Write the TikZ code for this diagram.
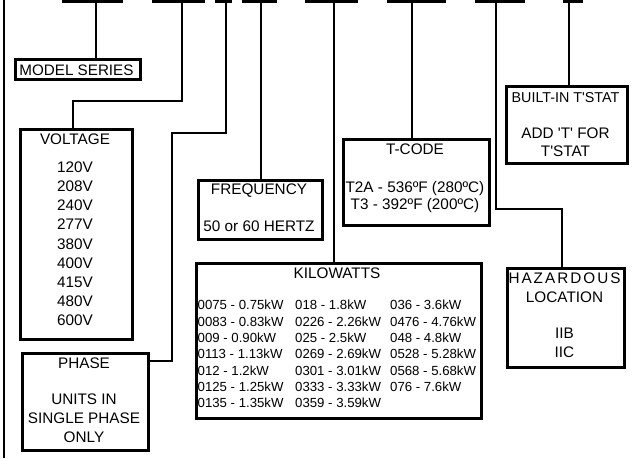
\documentclass[tikz,border=0pt]{standalone}
\usepackage{fontspec}
\newfontfamily\lsans{Liberation Sans}
\begin{document}
\begin{tikzpicture}[x=1pt,y=-1pt,line width=2.4pt,
  box/.style={draw,line width=2.9pt,inner sep=0pt,anchor=north west},
  tx/.style={font=\lsans\fontsize{15.3}{18}\selectfont,inner sep=0pt,anchor=base},
  ts/.style={font=\lsans\fontsize{13.2}{16}\selectfont,inner sep=0pt,anchor=base west},
  bar/.style={line width=3pt}]
\useasboundingbox (0,0) rectangle (636,458);
% top bars
\draw[bar] (62,1) -- (123,1);
\draw[bar] (152,1) -- (205,1);
\draw[bar] (215,1) -- (232,1);
\draw[bar] (242,1) -- (277,1);
\draw[bar] (305,1) -- (358,1);
\draw[bar] (387,1) -- (446,1);
\draw[bar] (475,1) -- (525,1);
\draw[bar] (563,1) -- (583,1);
% left line
\draw (4,0) -- (4,458);
% coordinates
\coordinate (c1) at (96,1);
\coordinate (c2) at (182,1);
\coordinate (c3) at (226,1);
\coordinate (c4) at (261,1);
\coordinate (c5) at (334,1);
\coordinate (c6) at (412,1);
\coordinate (c7) at (496,1);
\coordinate (c8) at (569,1);
\coordinate (k2) at (73,101);
\coordinate (k3a) at (172,133);
\coordinate (k3b) at (172,361);
\coordinate (k7) at (562,209);
% boxes
\node[box,minimum width=125pt,minimum height=20pt] (model) at (14,58) {};
\node[box,minimum width=112pt,minimum height=210pt] (volt) at (19,128) {};
\node[box,minimum width=126pt,minimum height=97pt] (phase) at (21,352) {};
\node[box,minimum width=124pt,minimum height=59pt] (freq) at (197,179) {};
\node[box,minimum width=146pt,minimum height=86pt] (tcode) at (342,138) {};
\node[box,minimum width=121pt,minimum height=77pt] (built) at (505,85) {};
\node[box,minimum width=285pt,minimum height=155pt] (kw) at (195,262) {};
\node[box,minimum width=117pt,minimum height=99pt] (haz) at (506,267) {};
% connectors
\draw (c1) -- (c1 |- model.north);
\draw (c2) |- (k2) -- (k2 |- volt.north);
\draw (c3) |- (k3a) -- (k3b) -- (k3b -| phase.east);
\draw (c4) -- (c4 |- freq.north);
\draw (c5) -- (c5 |- kw.north);
\draw (c6) -- (c6 |- tcode.north);
\draw (c7) |- (k7) -- (k7 |- haz.north);
\draw (c8) -- (c8 |- built.north);
% texts
\node[tx,font=\lsans\fontsize{15.2}{18}\selectfont] (tm) at (76.5,75) {MODEL SERIES};
\node[tx] (tv0) at (75,144.5) {VOLTAGE};
\node[tx] (tv1) at (75,172.5) {120V};
\node[tx] (tv2) at (75,191.6) {208V};
\node[tx] (tv3) at (75,210.8) {240V};
\node[tx] (tv4) at (75,229.9) {277V};
\node[tx] (tv5) at (75,249.1) {380V};
\node[tx] (tv6) at (75,268.2) {400V};
\node[tx] (tv7) at (75,287.4) {415V};
\node[tx] (tv8) at (75,306.5) {480V};
\node[tx] (tv9) at (75,325.6) {600V};
\node[tx] (tp0) at (84,368.5) {PHASE};
\node[tx] (tp1) at (84,404.5) {UNITS IN};
\node[tx] (tp2) at (84,423.5) {SINGLE PHASE};
\node[tx] (tp3) at (84,442.5) {ONLY};
\node[tx] (tf0) at (259,194.5) {FREQUENCY};
\node[tx] (tf1) at (259,231.5) {50 or 60 HERTZ};
\node[tx] (tt0) at (415,154.5) {T-CODE};
\node[tx] (tt1) at (415,192.5) {T2A - 536ºF (280ºC)};
\node[tx] (tt2) at (415,209.5) {T3 - 392ºF (200ºC)};
\node[tx,font=\lsans\fontsize{14.3}{17}\selectfont] (tb0) at (565.5,102.2) {BUILT-IN T'STAT};
\node[tx] (tb1) at (565.5,138.5) {ADD 'T' FOR};
\node[tx] (tb2) at (565.5,156.5) {T'STAT};
\node[tx] (tk0) at (337,278.5) {KILOWATTS};
\foreach \i/\a/\b/\c in {0/0075 - 0.75kW/018 - 1.8kW/036 - 3.6kW,
  1/0083 - 0.83kW/0226 - 2.26kW/0476 - 4.76kW,
  2/009 - 0.90kW/025 - 2.5kW/048 - 4.8kW,
  3/0113 - 1.13kW/0269 - 2.69kW/0528 - 5.28kW,
  4/012 - 1.2kW/0301 - 3.01kW/0568 - 5.68kW,
  5/0125 - 1.25kW/0333 - 3.33kW/076 - 7.6kW}{
  \node[ts] (ka\i) at (196.5,309.7+16.33*\i) {\a};
  \node[ts] (kb\i) at (294,309.7+16.33*\i) {\b};
  \node[ts] (kc\i) at (389,309.7+16.33*\i) {\c};
}
\node[ts] (ka6) at (196.5,309.7+16.33*6) {0135 - 1.35kW};
\node[ts] (kb6) at (294,309.7+16.33*6) {0359 - 3.59kW};
\node[tx] (th0) at (564.5,283.5) {\makebox[112pt][s]{H\hfill A\hfill Z\hfill A\hfill R\hfill D\hfill O\hfill U\hfill S}};
\node[tx] (th1) at (564.5,302.5) {LOCATION};
\node[tx] (th2) at (564.5,338.5) {IIB};
\node[tx] (th3) at (564.5,357.5) {IIC};
\end{tikzpicture}
\end{document}
